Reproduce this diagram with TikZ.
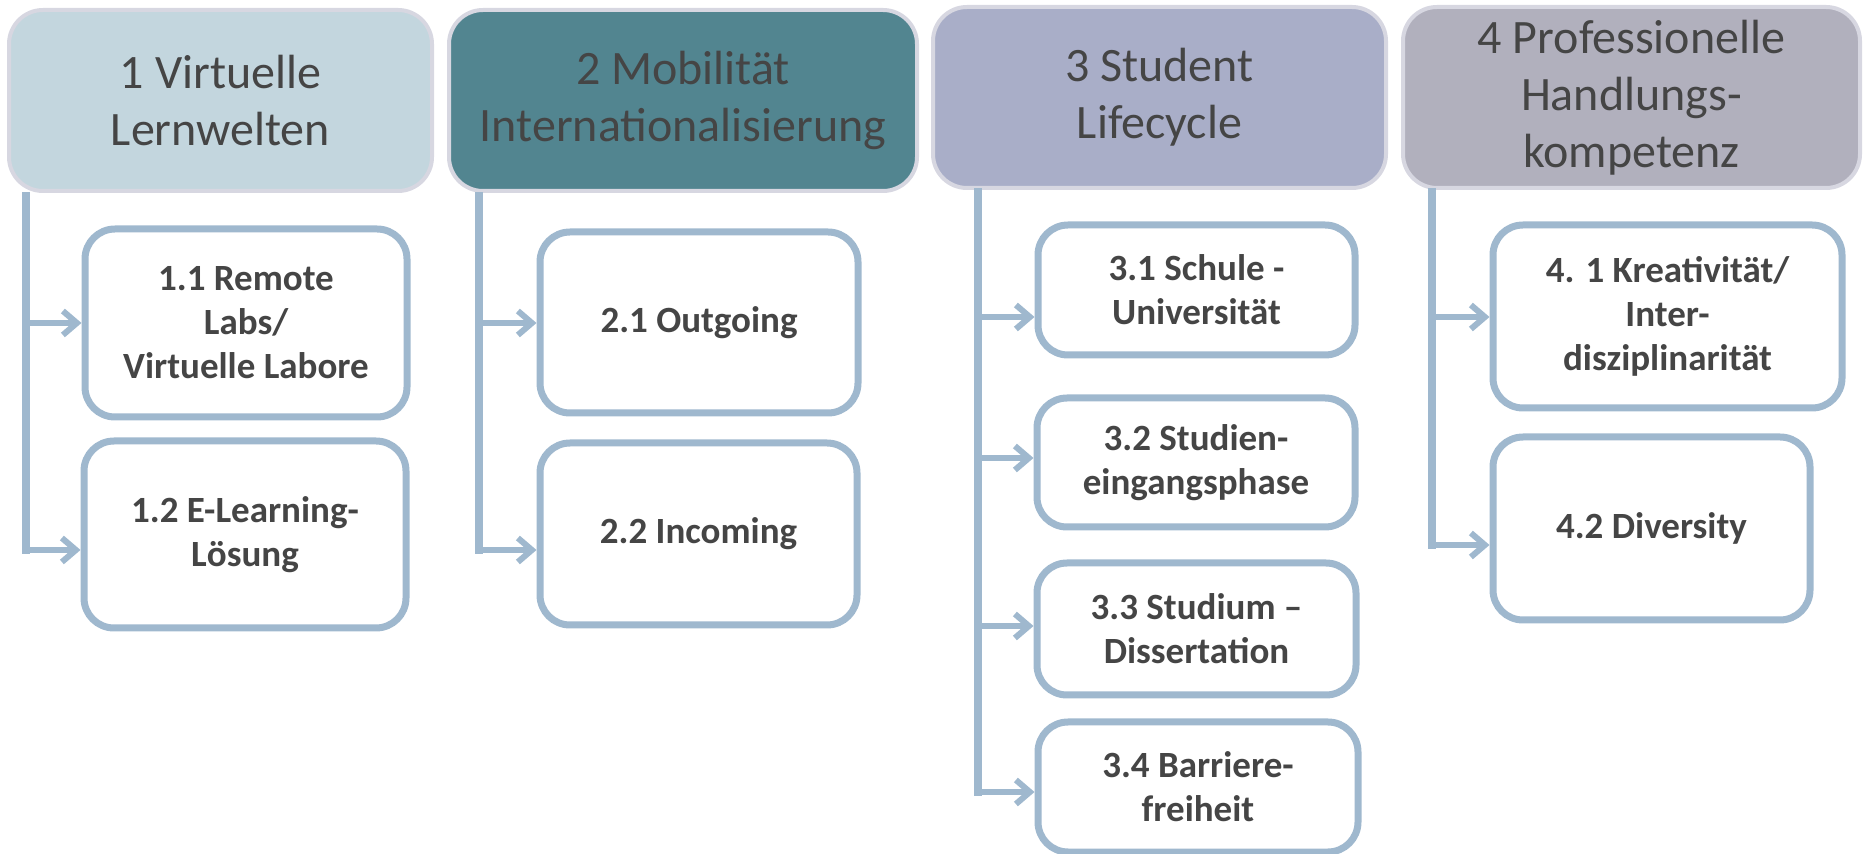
\documentclass[tikz,border=0pt]{standalone}
\usepackage{fontspec}
\setmainfont{Carlito}
\usepackage{tikz}
\usetikzlibrary{arrows.meta, positioning}
\definecolor{headA}{HTML}{C3D6DE}
\definecolor{headB}{HTML}{528590}
\definecolor{headC}{HTML}{A9AEC8}
\definecolor{headD}{HTML}{B1B0BD}
\definecolor{headrim}{HTML}{D7D7E1}
\definecolor{linkblue}{HTML}{9FB8CE}
\definecolor{darktext}{HTML}{454545}
\tikzset{
  head/.style={draw=headrim, line width=2pt, rounded corners=17pt, align=center, text=darktext,
    inner sep=0pt, minimum height=90.5pt, font=\fontsize{24}{28.5}\selectfont},
  item/.style={draw=linkblue, line width=3.5pt, rounded corners=15pt, fill=white, align=center,
    text=darktext, inner sep=0pt, font=\fontsize{18.5}{22}\selectfont\bfseries},
  trunk/.style={draw=linkblue, line width=4pt, line cap=rect},
  branch/.style={draw=linkblue, line width=3pt, -{Straight Barb[length=7pt,width=12pt]}},
}

\begin{document}
\begin{tikzpicture}[x=0.5pt,y=-0.5pt]
  \useasboundingbox (0,0) rectangle (1863,854);
  \node [head, fill=headA, minimum width=211.5pt] (h1) at (220.5,100.5) {1 Virtuelle\\Lernwelten};
  \node [head, fill=headB, minimum width=234pt] (h2) at (683,100.5) {2 Mobilität\\Internationalisierung};
  \node [head, fill=headC, minimum width=226.5pt] (h3) at (1159.5,97.5) {3 Student\\Lifecycle};
  \node [head, fill=headD, minimum width=228.5pt] (h4) at (1631.5,97.5) {4 Professionelle\\Handlungs-\\kompetenz};

  \node [item, minimum width=161pt, minimum height=94pt] (c11) at (246,323) {1.1 Remote\\Labs/\\Virtuelle Labore};
  \node [item, minimum width=161pt, minimum height=93.5pt] (c12) at (245,534.5) {1.2 E-Learning-\\Lösung};
  \node [item, minimum width=159pt, minimum height=90.5pt] (c21) at (699,322.5) {2.1 Outgoing};
  \node [item, minimum width=158.5pt, minimum height=91pt] (c22) at (698.5,534) {2.2 Incoming};
  \node [item, minimum width=158.5pt, minimum height=65pt] (c31) at (1196.5,290) {3.1 Schule -\\Universität};
  \node [item, minimum width=159pt, minimum height=64.5pt] (c32) at (1196,462.5) {3.2 Studien-\\eingangsphase};
  \node [item, minimum width=159.5pt, minimum height=66pt] (c33) at (1196.5,629) {3.3 Studium --\\Dissertation};
  \node [item, minimum width=160pt, minimum height=65pt] (c34) at (1198,787) {3.4 Barriere-\\freiheit};
  \node [item, minimum width=174.5pt, minimum height=91.5pt] (c41) at (1667.5,316.5) {4. 1 Kreativität/\\Inter-\\disziplinarität};
  \node [item, minimum width=158.5pt, minimum height=91.5pt] (c42) at (1651.5,528.5) {4.2 Diversity};

  \coordinate (t1) at (26,196);
  \coordinate (t2) at (479,196);
  \coordinate (t3) at (978,192);
  \coordinate (t4) at (1432,192);
  \coordinate (a11) at (c11.west |- 0,323);
  \coordinate (a12) at (c12.west |- 0,550);
  \coordinate (a21) at (c21.west |- 0,323);
  \coordinate (a22) at (c22.west |- 0,550);
  \coordinate (a31) at (c31.west |- 0,317);
  \coordinate (a32) at (c32.west |- 0,458);
  \coordinate (a33) at (c33.west |- 0,626);
  \coordinate (a34) at (c34.west |- 0,792);
  \coordinate (a41) at (c41.west |- 0,317);
  \coordinate (a42) at (c42.west |- 0,545);

  \draw [trunk] (t1) -- (t1 |- a12);
  \draw [branch] (t1 |- a11) -- (a11);
  \draw [branch] (t1 |- a12) -- (a12);
  \draw [trunk] (t2) -- (t2 |- a22);
  \draw [branch] (t2 |- a21) -- (a21);
  \draw [branch] (t2 |- a22) -- (a22);
  \draw [trunk] (t3) -- (t3 |- a34);
  \draw [branch] (t3 |- a31) -- (a31);
  \draw [branch] (t3 |- a32) -- (a32);
  \draw [branch] (t3 |- a33) -- (a33);
  \draw [branch] (t3 |- a34) -- (a34);
  \draw [trunk] (t4) -- (t4 |- a42);
  \draw [branch] (t4 |- a41) -- (a41);
  \draw [branch] (t4 |- a42) -- (a42);
\end{tikzpicture}
\end{document}
